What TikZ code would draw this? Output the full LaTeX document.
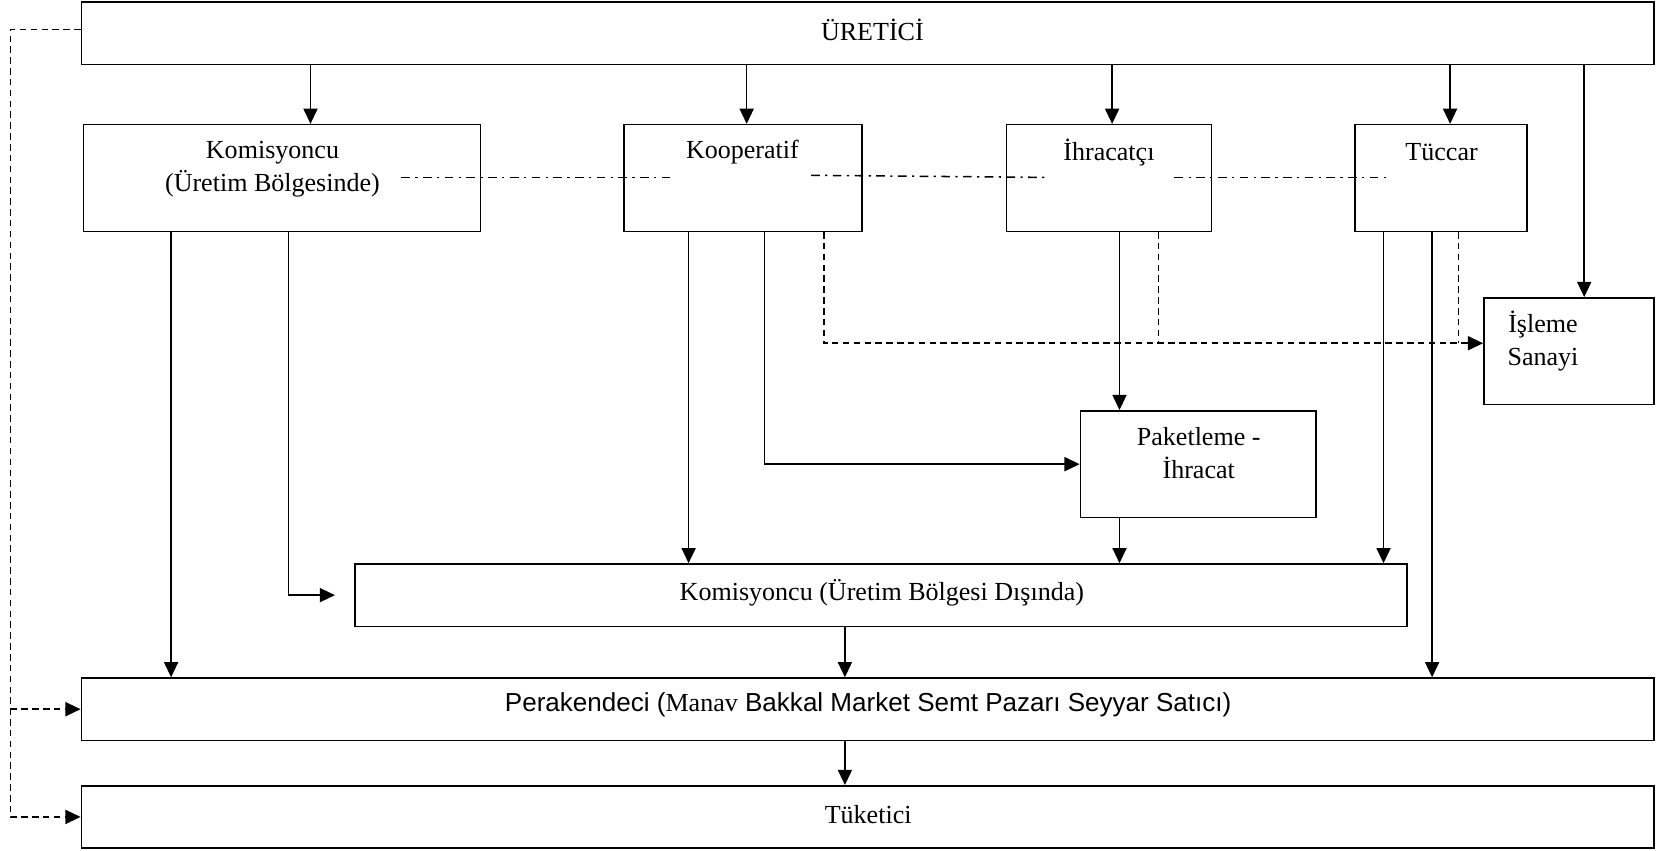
\documentclass[tikz,border=0pt]{standalone}
\usepackage{fontspec}
\setmainfont{Liberation Serif}
\newfontfamily\arialfont{Liberation Sans}
\usetikzlibrary{arrows.meta, fit, positioning}

\tikzset{
	box/.style		= {draw, line width=0.7pt, inner sep=0pt},
	lbl/.style		= {font=\fontsize{12}{15}\selectfont, align=center, inner sep=0pt},
	arr/.style		= {-{Triangle[length=7pt, width=6.5pt]}, line width=0.7pt},
	dline/.style	= {line width=0.7pt, dash pattern=on 3pt off 2pt},
	ddline/.style	= {line width=0.7pt, dash pattern=on 4pt off 2.5pt on 1pt off 2.5pt},
}

\begin{document}
\begin{tikzpicture}[x=0.0171cm, y=-0.0171cm]
	\useasboundingbox (0,0) rectangle (1568,805);

	% kutular
	\node[box, fit={(77,2) (1566,61)}]			(uretici)	{};
	\node[box, fit={(79,118) (455,219)}]		(komB)		{};
	\node[box, fit={(591,118) (816,219)}]		(koop)		{};
	\node[box, fit={(953,118) (1147,219)}]		(ihr)		{};
	\node[box, fit={(1283,118) (1446,219)}]		(tuccar)	{};
	\node[box, fit={(1405,282) (1566,383)}]		(isleme)	{};
	\node[box, fit={(1023,389) (1246,490)}]		(paket)		{};
	\node[box, fit={(336,534) (1332,593)}]		(komD)		{};
	\node[box, fit={(77,642) (1566,701)}]		(perak)		{};
	\node[box, fit={(77,744) (1566,803)}]		(tuket)		{};

	% yazilar
	\node[lbl]	(ureticiT)	at (826,28)		{ÜRETİCİ};
	\node[lbl]	(komBT)		at (258,160)	{Komisyoncu\\(Üretim Bölgesinde)};
	\node[lbl]	(koopT)		at (703,144)	{Kooperatif};
	\node[lbl]	(ihrT)		at (1050,144)	{İhracatçı};
	\node[lbl]	(tuccarT)	at (1365,144)	{Tüccar};
	\node[lbl]	(islemeT)	at (1461,323)	{İşleme\\ Sanayi};
	\node[lbl]	(paketT)	at (1135,429)	{Paketleme -\\İhracat};
	\node[lbl]	(komDT)		at (835,561)	{Komisyoncu (Üretim Bölgesi Dışında)};
	\node[lbl]	(perakT)	at (822,667)	{{\arialfont Perakendeci (}Manav{\arialfont\ Bakkal Market Semt Pazarı Seyyar Satıcı)}};
	\node[lbl]	(tuketT)	at (822,771)	{Tüketici};

	% oklar
	\path[arr]
	(uretici.south -| 294,0)	edge	(komB.north -| 294,0)
	(uretici.south -| 707,0)	edge	(koop.north -| 707,0)
	(uretici.south -| 1053,0)	edge	(ihr.north -| 1053,0)
	(uretici.south -| 1373,0)	edge	(tuccar.north -| 1373,0)
	(uretici.south -| 1500,0)	edge	(isleme.north -| 1500,0)
	(komB.south -| 162,0)		edge	(perak.north -| 162,0)
	(koop.south -| 652,0)		edge	(komD.north -| 652,0)
	(ihr.south -| 1060,0)		edge	(paket.north -| 1060,0)
	(paket.south -| 1060,0)		edge	(komD.north -| 1060,0)
	(tuccar.south -| 1310,0)	edge	(komD.north -| 1310,0)
	(tuccar.south -| 1356,0)	edge	(perak.north -| 1356,0)
	(komD.south -| 800,0)		edge	(perak.north -| 800,0)
	(perak.south -| 800,0)		edge	(tuket.north -| 800,0)
	;
	\draw[arr, shorten >=0.31cm]	(komB.south -| 273,0)	|- (komD.west);
	\draw[arr]						(koop.south -| 724,0)	|- (paket.west);

	% kesikli
	\coordinate (sol)	at (10,0);
	\coordinate (dj)	at (0,325);
	\draw[dline, arr]	(uretici.west |- 0,28) -| (sol |- tuket.west) -- (tuket.west);
	\draw[dline, arr]	(sol |- perak.west) -- (perak.west);
	\draw[dline, arr]	(koop.south -| 780,0) |- (isleme.west |- dj);
	\draw[dline]		(ihr.south -| 1097,0) -- (dj -| 1097,0);
	\draw[dline]		(tuccar.south -| 1381,0) -- (dj -| 1381,0);

	% noktali cizgi
	\draw[ddline] (380,168) -- (635,168);
	\draw[ddline] (768,166) -- (993,168);
	\draw[ddline] (1112,168) -- (1316,168);
\end{tikzpicture}
\end{document}
